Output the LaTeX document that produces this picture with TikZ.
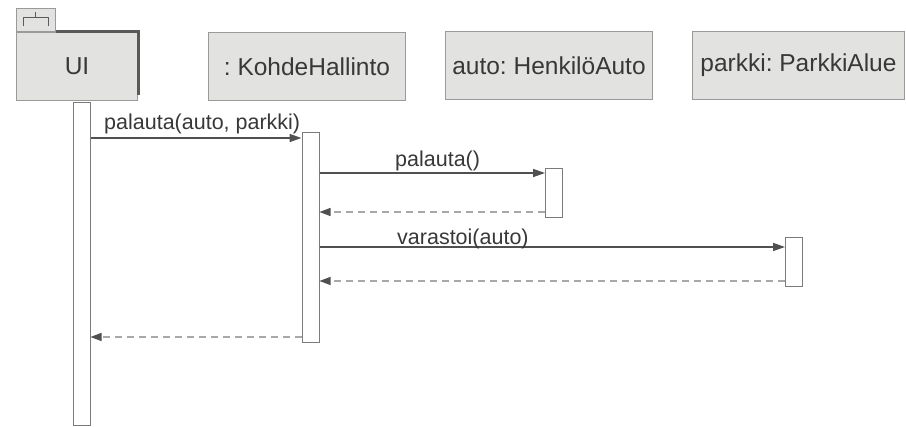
\documentclass[tikz,border=0pt]{standalone}
\usepackage{fontspec}
\setmainfont{Liberation Sans}
\frenchspacing
\usetikzlibrary{arrows.meta,backgrounds,calc}
\definecolor{boxfill}{HTML}{E2E2E0}
\definecolor{boxline}{HTML}{9A9A9A}
\definecolor{txt}{HTML}{383838}
\definecolor{msgline}{HTML}{505050}
\definecolor{retline}{HTML}{A8A8A8}
\definecolor{shadowline}{HTML}{5A5A5A}
\begin{document}
\begin{tikzpicture}[x=1pt,y=-1pt,
 objbox/.style={draw=boxline, fill=boxfill, line width=1pt, minimum height=68pt, inner sep=0pt, text=txt, font=\fontsize{24.5}{28}\selectfont, anchor=north west},
 actbar/.style={draw=boxline!80!black, fill=white, line width=1pt, minimum width=17pt, inner sep=0pt, anchor=north},
 lifeline/.style={draw=retline, line width=1pt, dash pattern=on 7pt off 5pt},
 msg/.style={draw=msgline, line width=1.5pt, -{Triangle[length=12pt,width=8pt]}},
 ret/.style={draw=retline, line width=1.2pt, dash pattern=on 7pt off 5pt, -{Triangle[length=11pt,width=8pt,color=msgline]}},
 lbl/.style={text=txt, font=\fontsize{21.5}{24}\selectfont, inner sep=0pt, anchor=base west}]
\useasboundingbox[fill=white] (0,0) rectangle (906,427);

% objects
\node[objbox, minimum width=121pt] (ui) at (16,32) {UI};
\node[draw=boxline, fill=boxfill, line width=1pt, minimum width=39pt, minimum height=23pt, inner sep=0pt, anchor=south west] (tab) at (ui.north west) {};
\draw[draw=shadowline, line width=1pt] (23,26) -- (23,18) -- (48,18) -- (48,26) (35,18) -- (35,12);
\draw[draw=shadowline, line width=3pt] (tab.south east) -- (ui.north east) -- ($(ui.south east)+(0,-6)$);
\node[objbox, minimum width=197pt] (kh) at (208,32) {: KohdeHallinto};
\node[objbox, minimum width=207pt] (auto) at (445,31) {auto: HenkilöAuto};
\node[objbox, minimum width=212pt] (parkki) at (692,31) {parkki: ParkkiAlue};

% activation bars
\node[actbar, minimum height=323pt] (uiact) at (81.5,102) {};
\node[actbar, minimum height=210pt] (khact) at (310.5,132) {};
\node[actbar, minimum height=49pt] (autoact) at (554,168) {};
\node[actbar, minimum height=49pt] (parkkiact) at (794,237) {};

% lifelines
\begin{pgfonlayer}{background}
\draw[lifeline] (khact.north |- kh.south) -- (khact.north);
\draw[lifeline] (khact.south) -- (khact.south |- 0,418);
\draw[lifeline] (autoact.north |- auto.south) -- (autoact.north);
\draw[lifeline] (autoact.south) -- (autoact.south |- 0,418);
\draw[lifeline] (parkkiact.north |- parkki.south) -- (parkkiact.north);
\draw[lifeline] (parkkiact.south) -- (parkkiact.south |- 0,418);
\end{pgfonlayer}

% messages
\draw[msg] (uiact.east |- 0,138) -- (khact.west |- 0,138);
\node[lbl] (l1) at (104,130) {palauta(auto, parkki)};
\draw[msg] (khact.east |- 0,173) -- (autoact.west |- 0,173);
\node[lbl] (l2) at (395,167) {palauta()};
\draw[ret] (autoact.west |- 0,212) -- (khact.east |- 0,212);
\draw[msg] (khact.east |- 0,247) -- (parkkiact.west |- 0,247);
\node[lbl] (l3) at (397,245) {varastoi(auto)};
\draw[ret] (parkkiact.west |- 0,281) -- (khact.east |- 0,281);
\draw[ret] (khact.west |- 0,337) -- (uiact.east |- 0,337);
\end{tikzpicture}
\end{document}
